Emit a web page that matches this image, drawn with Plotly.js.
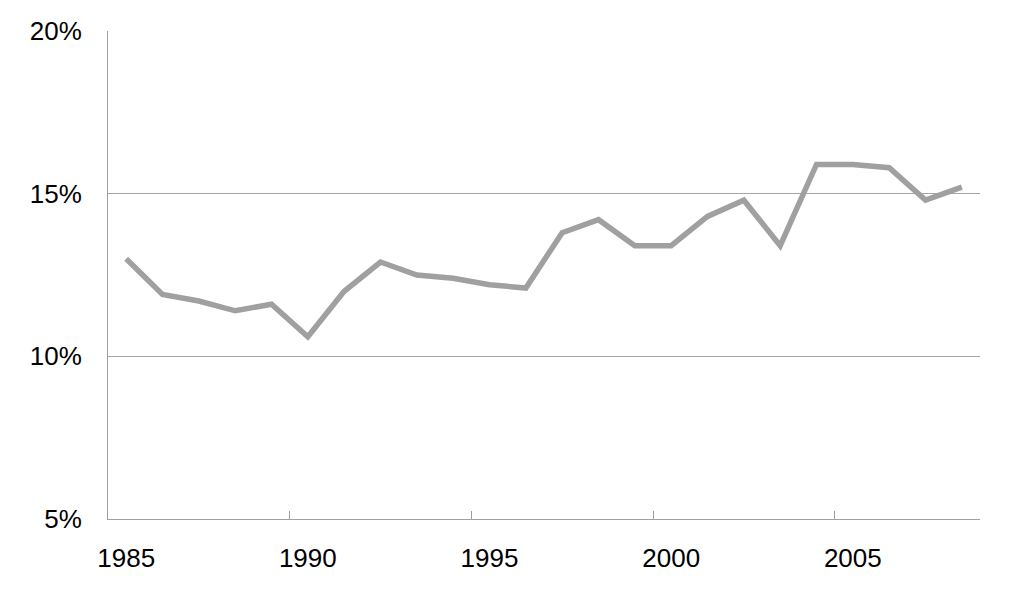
<!DOCTYPE html>
<html>
<head>
<meta charset="utf-8">
<script src="https://cdn.plot.ly/plotly-3.0.1.min.js"></script>
<style>html,body{margin:0;padding:0;background:#fff;}#chart{width:1019px;height:606px;}</style>
</head>
<body>
<div id="chart"></div>
<script>
const years = [1985,1986,1987,1988,1989,1990,1991,1992,1993,1994,1995,1996,1997,1998,1999,2000,2001,2002,2003,2004,2005,2006,2007,2008];
const values = [13.0,11.9,11.7,11.4,11.6,10.6,12.0,12.9,12.5,12.4,12.2,12.1,13.8,14.2,13.4,13.4,14.3,14.8,13.4,15.9,15.9,15.8,14.8,15.2];
const xTickLabels = [1985,1990,1995,2000,2005];
const yTickValues = [5,10,15,20];

const trace = {
  x: years, y: values, type: 'scatter', mode: 'lines',
  line: {color: '#a0a0a0', width: 5.5, shape: 'linear'},
  hoverinfo: 'skip'
};
const layout = {
  width: 1019, height: 606,
  margin: {l: 108, r: 39, t: 31, b: 87},
  paper_bgcolor: '#fff', plot_bgcolor: '#fff',
  showlegend: false,
  font: {family: '"Liberation Sans", Arial, sans-serif', color: '#000', size: 26},
  xaxis: {
    range: [1984.5, 2008.5],
    tickmode: 'array', tickvals: xTickLabels, ticktext: xTickLabels.map(String),
    ticks: 'inside', ticklen: 0, tickcolor: '#a0a0a0',
    showgrid: false, zeroline: false,
    showline: true, linecolor: '#a0a0a0', linewidth: 1,
    ticklabelstandoff: 16,
    minor: {tickmode: 'linear', tick0: 1984.5, dtick: 5, ticks: 'inside', ticklen: 8, tickcolor: '#a0a0a0', tickwidth: 1, showgrid: false},
    tickfont: {size: 26}
  },
  yaxis: {
    range: [5, 20],
    tickmode: 'array', tickvals: yTickValues, ticktext: yTickValues.map(v => v + '%'),
    ticks: '', showgrid: true, gridcolor: '#a6a6a6', gridwidth: 1,
    zeroline: false, showline: true, linecolor: '#a0a0a0', linewidth: 1,
    ticklabelstandoff: 20,
    tickfont: {size: 26}
  }
};
Plotly.newPlot('chart', [trace], layout, {displayModeBar: false, staticPlot: true});
</script>
</body>
</html>
